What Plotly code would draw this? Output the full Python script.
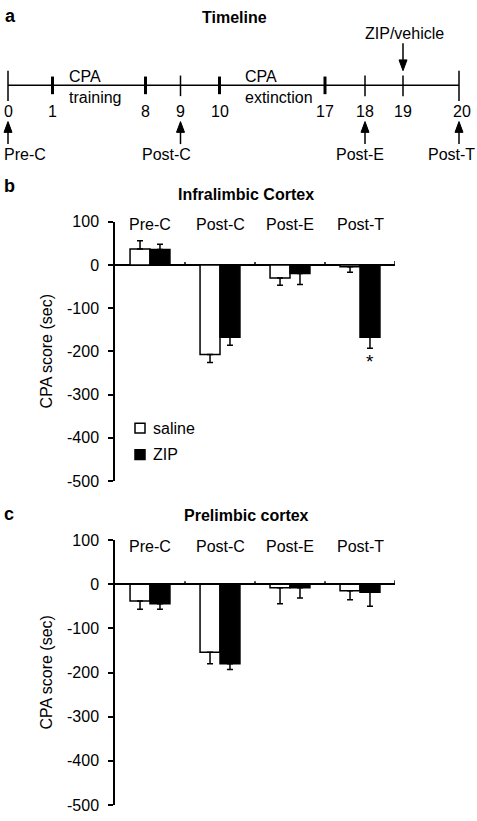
import plotly.graph_objects as go

# ---------------- data ----------------
categories = ["Pre-C", "Post-C", "Post-E", "Post-T"]
series_names = ["saline", "ZIP"]

il_saline = [37, -207, -30, -4]
il_saline_err = [19, 19, 17, 13]
il_zip = [36, -167, -20, -167]
il_zip_err = [12, 19, 25, 26]
il_sig = ["", "", "", "*"]

pl_saline = [-38, -154, -8, -15]
pl_saline_err = [19, 26, 36, 20]
pl_zip = [-44, -180, -8, -18]
pl_zip_err = [13, 13, 23, 32]

y_ticks = [100, 0, -100, -200, -300, -400, -500]
y_tick_labels = ["100", "0", "-100", "-200", "-300", "-400", "-500"]

timeline_days = [0, 1, 8, 9, 10, 17, 18, 19, 20]
phase_labels = ["CPA<br>training", "CPA<br>extinction"]
phase_start_days = [1, 10]
phase_end_days = [8, 17]
test_days = [0, 9, 18, 20]          # tests named by categories
treatment_day = 19
treatment_label = "ZIP/vehicle"

# ---------------- layout constants ----------------
W, H = 477, 821
FONT = "Liberation Sans, Arial, sans-serif"
FS = 16
# schematic (non-linear) pixel positions of timeline days
TL_POS = {0: 8, 1: 52.5, 8: 145.5, 9: 180.5, 10: 219.5, 17: 325, 18: 365, 19: 403, 20: 459}
TEST_LABEL_X = [25, 166, 360, 451]
TL_Y = 79

PLOT_X0, PLOT_X1 = 115, 395
PANELS = [
    dict(top=218.3, bottom=483.0, title="Infralimbic Cortex", letter="b", letter_y=182,
         title_y=190, cat_shift=-2.5, xa="x", ya="y",
         data=[(il_saline, il_saline_err), (il_zip, il_zip_err)], sig=il_sig),
    dict(top=543.3, bottom=813.8, title="Prelimbic cortex", letter="c", letter_y=517,
         title_y=518, cat_shift=-6.7, xa="x2", ya="y2",
         data=[(pl_saline, pl_saline_err), (pl_zip, pl_zip_err)], sig=None),
]
FILLS = ["white", "black"]

fig = go.Figure()
shapes = []
annots = []


def txt(x, y, text, size=FS, bold=False, xanchor="center", yanchor="middle", **kw):
    d = dict(x=x, y=y, xref="x3", yref="y3", text=("<b>%s</b>" % text) if bold else text,
             showarrow=False, xanchor=xanchor, yanchor=yanchor,
             font=dict(family=FONT, size=size, color="black"))
    d.update(kw)
    annots.append(d)


def line(x0, y0, x1, y1, w=1.5):
    shapes.append(dict(type="line", xref="x3", yref="y3", x0=x0, y0=y0, x1=x1, y1=y1,
                       line=dict(color="black", width=w)))


def tri(x, ytip, ybase, half=4):
    shapes.append(dict(type="path", xref="x3", yref="y3",
                       path=f"M {x-half},{ybase} L {x+half},{ybase} L {x},{ytip} Z",
                       fillcolor="black", line=dict(color="black", width=1)))


# ---------------- bar panels ----------------
for pi, p in enumerate(PANELS):
    for si, (vals, errs) in enumerate(p["data"]):
        plus = [e if v >= 0 else 0 for v, e in zip(vals, errs)]
        minus = [e if v < 0 else 0 for v, e in zip(vals, errs)]
        fig.add_trace(go.Bar(
            x=categories, y=vals, name=series_names[si], showlegend=False,
            xaxis=p["xa"], yaxis=p["ya"],
            marker=dict(color=FILLS[si], line=dict(color="black", width=1.5)),
            error_y=dict(type="data", symmetric=False, array=plus, arrayminus=minus,
                         color="black", thickness=1.5, width=3),
        ))
    # category labels above
    for c in categories:
        annots.append(dict(x=c, y=y_ticks[0], xref=p["xa"], yref=p["ya"], text=c,
                           showarrow=False, yanchor="middle", yshift=p["cat_shift"],
                           font=dict(family=FONT, size=FS, color="black")))
    # small boundary ticks on the zero line
    for i in range(len(categories)):
        shapes.append(dict(type="line", xref=p["xa"], yref=p["ya"], ysizemode="pixel",
                           yanchor=0, x0=i + 0.5, x1=i + 0.5, y0=0, y1=4 if i == len(categories) - 1 else 3,
                           line=dict(color="black", width=1.5)))
    # significance
    if p["sig"]:
        vals, errs = p["data"][1]
        for i, s in enumerate(p["sig"]):
            if s:
                annots.append(dict(x=categories[i], y=vals[i] - errs[i], xref=p["xa"], yref=p["ya"],
                                   text=s, showarrow=False, yanchor="top", xshift=10, yshift=-1,
                                   font=dict(family=FONT, size=19, color="black")))
    # titles, letters, y-axis label
    txt(2, p["letter_y"], p["letter"], size=18, bold=True, xanchor="left")
    txt(246, p["title_y"], p["title"], bold=True)
    txt(46, (p["top"] + p["bottom"]) / 2, "CPA score (sec)", textangle=-90)

# legend (panel b)
for si, name in enumerate(series_names):
    yc = 429 + si * 27
    shapes.append(dict(type="rect", xref="x3", yref="y3", x0=135, x1=145, y0=yc - 5, y1=yc + 5,
                       fillcolor=FILLS[si], line=dict(color="black", width=1.5)))
    txt(151, yc, name, xanchor="left")

# ---------------- timeline ----------------
txt(3, 8, "a", size=18, bold=True, xanchor="left")
txt(234, 10, "Timeline", bold=True)
line(TL_POS[timeline_days[0]], TL_Y, TL_POS[timeline_days[-1]], TL_Y)
boundary = set(phase_start_days + phase_end_days)
for d in timeline_days:
    x = TL_POS[d]
    if d in (timeline_days[0], timeline_days[-1]):
        line(x, 64, x, 95)
    elif d in boundary:
        line(x, 70, x, 88, w=3)
    else:
        line(x, 69, x, 90)
    txt(x + (3 if d == timeline_days[-1] else 0), 106, str(d))
for lab, d in zip(phase_labels, phase_start_days):
    txt(TL_POS[d] + 14 if d == 1 else TL_POS[d] + 23, 81, lab, xanchor="left", align="left")
for d, c, lx in zip(test_days, categories, TEST_LABEL_X):
    x = TL_POS[d]
    line(x, 125, x, 139)
    tri(x, 116, 127)
    txt(lx, 150, c)
xz = TL_POS[treatment_day]
txt(xz + 1, 26, treatment_label)
line(xz, 36, xz, 55)
tri(xz, 64, 53)

# overlay pixel-coordinate subplot
fig.add_trace(go.Scatter(x=[], y=[], xaxis="x3", yaxis="y3", showlegend=False, hoverinfo="skip"))

ax_common = dict(showline=True, linecolor="black", linewidth=1.5, ticks="outside", ticklen=5,
                 tickwidth=1.5, tickcolor="black", tickmode="array", tickvals=y_ticks,
                 ticktext=y_tick_labels, range=[-500, 100], ticklabelstandoff=6,
                 showgrid=False, zeroline=True, zerolinecolor="black", zerolinewidth=1.5,
                 tickfont=dict(family=FONT, size=FS, color="black"), fixedrange=True)
xa_common = dict(type="category", range=[-0.5, len(categories) - 0.5], visible=False,
                 domain=[PLOT_X0 / W, PLOT_X1 / W], fixedrange=True)

fig.update_layout(
    width=W, height=H, autosize=False,
    margin=dict(l=0, r=0, t=0, b=0, pad=0),
    paper_bgcolor="white", plot_bgcolor="rgba(0,0,0,0)",
    barmode="group", bargap=0.43, bargroupgap=0,
    font=dict(family=FONT, size=FS, color="black"),
    xaxis=dict(anchor="y", **xa_common),
    yaxis=dict(anchor="x", domain=[(H - PANELS[0]["bottom"]) / H, (H - PANELS[0]["top"]) / H], **ax_common),
    xaxis2=dict(anchor="y2", **xa_common),
    yaxis2=dict(anchor="x2", domain=[(H - PANELS[1]["bottom"]) / H, (H - PANELS[1]["top"]) / H], **ax_common),
    xaxis3=dict(anchor="y3", domain=[0, 1], range=[0, W], visible=False, fixedrange=True),
    yaxis3=dict(anchor="x3", domain=[0, 1], range=[H, 0], visible=False, fixedrange=True),
    shapes=shapes, annotations=annots,
)

fig.write_html("out.html", config={"displayModeBar": False},
               post_script="document.body.style.margin='0';document.body.style.overflow='hidden';")
